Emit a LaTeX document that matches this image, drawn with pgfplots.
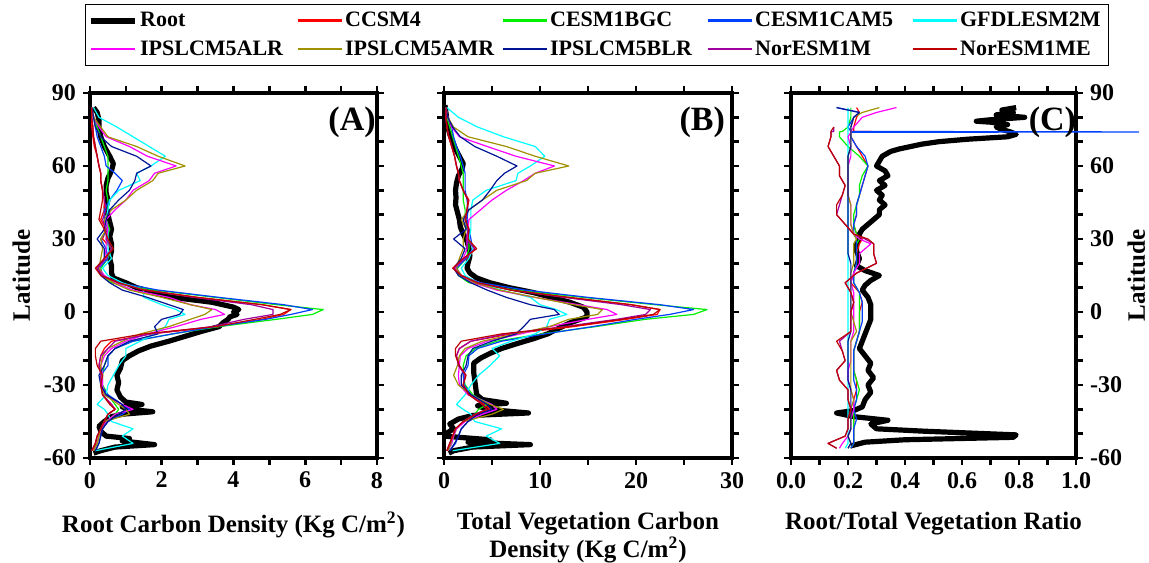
\documentclass[border=0pt]{standalone}
\usepackage{pgfplots}
\pgfplotsset{compat=1.18}
\usepackage{pgfplotstable}
\usepackage{fontspec}
\setmainfont{Liberation Serif}

\definecolor{cRed}{RGB}{255,0,0}
\definecolor{cGreen}{RGB}{0,240,0}
\definecolor{cBlue}{RGB}{0,64,255}
\definecolor{cCyan}{RGB}{0,255,255}
\definecolor{cMag}{RGB}{255,0,255}
\definecolor{cOlive}{RGB}{160,145,0}
\definecolor{cNavy}{RGB}{0,20,150}
\definecolor{cPurp}{RGB}{160,0,160}
\definecolor{cDkred}{RGB}{190,0,0}

% columns: lat CCSM4 CESM1BGC CESM1CAM5 GFDLESM2M IPSLCM5ALR IPSLCM5AMR IPSLCM5BLR NorESM1M NorESM1ME
\pgfplotstableread{
lat red green blue cyan mag olive navy purp dkred
84 0.05 0.05 0.05 0.10 0.05 0.05 0.05 0.05 0.05
80 0.05 0.10 0.10 0.25 0.10 0.10 0.10 0.05 0.05
76 0.05 0.20 0.15 0.75 0.25 0.30 0.15 0.08 0.08
72 0.08 0.30 0.20 1.20 0.45 0.50 0.30 0.10 0.10
68 0.12 0.40 0.30 1.65 1.10 1.30 0.60 0.15 0.15
64 0.20 0.50 0.40 2.10 1.60 1.90 1.30 0.20 0.20
60 0.25 0.50 0.45 1.70 2.40 2.65 1.70 0.25 0.25
57 0.30 0.50 0.70 1.30 1.80 1.90 1.30 0.30 0.30
54 0.30 0.50 0.90 1.40 1.65 1.75 1.25 0.30 0.30
50 0.35 0.45 0.75 0.80 1.20 1.30 1.10 0.35 0.35
46 0.40 0.50 0.55 0.55 1.00 1.00 0.80 0.40 0.35
42 0.40 0.50 0.40 0.50 0.70 0.60 0.55 0.45 0.30
38 0.30 0.45 0.40 0.45 0.45 0.40 0.45 0.35 0.25
34 0.45 0.55 0.50 0.50 0.50 0.45 0.40 0.45 0.40
30 0.35 0.45 0.30 0.50 0.45 0.30 0.20 0.45 0.50
26 0.60 0.60 0.45 0.50 0.45 0.35 0.40 0.60 0.65
22 0.40 0.50 0.50 0.60 0.40 0.30 0.40 0.45 0.40
18 0.20 0.30 0.25 0.35 0.25 0.25 0.20 0.20 0.15
15 0.35 0.35 0.35 0.50 0.40 0.35 0.30 0.35 0.30
12 0.80 0.60 0.80 0.90 0.70 0.65 0.55 0.80 0.80
9 1.60 1.80 1.90 1.50 1.20 1.10 0.90 1.50 1.50
6 3.00 3.50 3.60 1.50 2.20 2.00 1.60 2.90 3.00
3 4.80 5.20 5.40 2.00 2.80 2.80 2.20 4.50 4.80
1 5.60 6.50 6.20 2.40 3.50 3.40 2.60 5.10 5.60
-1 5.40 6.20 5.60 2.65 3.75 3.20 2.50 5.10 5.30
-3 4.80 5.20 4.90 2.20 3.10 2.80 2.00 4.30 4.60
-6 3.60 3.60 3.50 2.10 2.40 2.20 1.80 3.40 3.50
-9 1.70 2.30 2.30 1.80 1.60 1.40 1.90 1.70 1.50
-12 0.60 1.20 1.20 1.40 1.00 0.90 1.10 0.70 0.30
-15 0.40 0.70 0.70 1.00 0.60 0.50 0.70 0.50 0.15
-18 0.30 0.50 0.50 1.00 0.40 0.35 0.50 0.30 0.15
-22 0.25 0.40 0.50 0.80 0.30 0.30 0.40 0.25 0.20
-26 0.35 0.35 0.30 0.65 0.35 0.30 0.25 0.30 0.35
-30 0.30 0.35 0.30 0.50 0.35 0.30 0.30 0.30 0.30
-34 0.35 0.50 0.50 0.45 0.40 0.40 0.45 0.35 0.35
-38 0.60 0.70 0.90 0.20 0.90 0.80 0.90 0.60 0.55
-40 0.70 0.80 1.10 0.40 1.20 1.00 1.00 0.70 0.70
-42 0.50 0.70 0.90 0.50 0.70 1.10 0.80 0.50 0.50
-45 0.40 0.45 0.50 0.60 0.45 0.40 0.50 0.40 0.40
-48 0.30 0.30 0.35 1.20 0.30 0.30 0.35 0.30 0.30
-51 0.20 0.25 0.30 0.90 0.25 0.25 0.30 0.20 0.20
-54 0.15 0.20 0.25 1.20 0.20 0.20 0.25 0.15 0.15
-57 0.05 0.10 0.15 0.15 0.10 0.10 0.15 0.05 0.05
}\Amod

\pgfplotstableread{
lat val
84 0.10
82 0.20
79 0.25
76 0.25
72 0.30
68 0.40
64 0.55
61 0.65
58 0.60
55 0.50
52 0.45
49 0.45
46 0.50
43 0.45
40 0.50
37 0.55
34 0.60
31 0.55
28 0.60
25 0.60
22 0.55
19 0.60
16 0.60
14 0.65
12 1.00
10 1.30
8 1.80
6 2.30
4 3.40
2 4.00
1 4.15
0 4.00
-1 4.10
-2 3.90
-3 3.85
-4.5 3.70
-6 3.60
-8 3.10
-10 2.65
-12 2.20
-14 1.70
-16 1.35
-18 1.10
-20 0.90
-23 0.85
-26 0.75
-29 0.80
-32 0.75
-35 0.85
-37 1.00
-38 1.45
-39 0.90
-40 1.10
-41 1.75
-42 0.90
-43 0.60
-45 0.40
-47 0.25
-49 0.30
-51 0.45
-52 1.10
-53 0.90
-54.5 1.80
-55.5 0.70
-57 0.30
-58 0.10
}\Aroot

\pgfplotstableread{
lat red green blue cyan mag olive navy purp dkred
84 0.2 0.2 0.2 0.3 0.2 0.2 0.2 0.2 0.2
80 0.2 0.3 0.4 1.5 0.4 0.4 0.4 0.2 0.2
76 0.3 0.6 0.8 3.5 0.8 1.0 0.9 0.3 0.3
72 0.5 0.9 1.0 6.2 1.6 2.5 1.7 0.5 0.5
68 0.8 1.2 1.3 9.5 4.5 6.5 3.2 0.8 0.8
64 1.1 1.5 1.7 10.5 7.5 9.5 5.5 1.1 1.1
60 1.3 1.8 2.0 9.0 11.5 13.0 7.6 1.3 1.3
57 1.5 2.0 2.2 7.7 9.5 9.5 6.3 1.5 1.5
54 1.6 2.0 2.2 7.5 8.3 8.6 5.5 1.6 1.6
50 2.0 2.0 2.2 4.4 6.5 5.5 4.8 2.0 2.0
46 2.6 2.0 2.4 3.0 5.0 4.0 4.0 2.5 2.5
42 2.4 2.2 2.5 2.8 3.8 2.6 2.6 2.4 2.4
38 2.3 2.2 2.4 2.8 2.6 1.8 2.0 2.2 2.2
34 2.5 2.4 2.6 2.8 2.5 2.3 2.3 2.5 2.6
30 2.4 2.6 2.8 2.6 2.4 2.0 1.0 2.3 2.5
26 3.2 2.6 3.0 3.0 2.4 2.0 2.2 3.2 3.4
22 2.4 2.3 2.3 2.6 2.0 1.6 1.8 2.2 2.0
18 1.0 1.4 1.3 1.8 1.2 1.3 1.0 1.0 0.9
15 1.8 1.5 1.8 2.2 1.8 1.8 1.5 1.8 1.8
12 3.5 2.6 3.8 3.5 3.0 3.2 2.8 3.5 3.5
9 7.0 7.5 8.5 6.0 5.5 5.8 4.5 7.0 7.0
6 13.0 14.5 15.0 9.0 9.5 9.5 6.5 12.5 13.0
3 19.5 22.0 22.5 10.0 14.0 13.5 9.0 18.5 19.5
1 22.5 27.4 26.0 11.7 17.0 16.5 11.5 21.5 22.5
-1 22.2 26.0 23.5 12.8 18.0 16.0 12.0 21.0 21.8
-3 19.0 21.0 20.0 11.0 15.0 13.0 9.0 18.0 18.5
-6 13.5 15.8 15.5 10.7 11.0 11.0 8.3 12.5 13.0
-9 7.0 10.2 10.5 9.5 8.0 7.5 7.5 6.5 6.0
-12 2.8 5.5 6.0 7.0 4.5 4.0 5.0 2.8 1.8
-15 1.6 3.3 3.5 5.0 2.5 2.2 3.0 1.6 1.2
-18 1.3 2.3 2.6 5.8 1.7 1.6 2.5 1.3 1.2
-22 1.6 2.0 2.5 4.8 1.6 1.4 2.3 1.5 1.6
-26 2.2 2.0 2.0 3.6 1.5 1.0 1.8 2.2 2.3
-30 2.0 2.2 2.1 2.8 1.6 1.5 1.8 2.0 2.0
-34 2.6 3.0 2.8 2.2 2.5 2.8 2.8 2.6 2.6
-38 4.2 4.5 5.0 1.3 5.0 4.8 4.5 4.0 4.0
-40 4.8 3.6 5.5 2.0 5.5 6.2 5.0 4.5 4.5
-42 3.5 3.2 4.0 2.8 4.0 5.0 3.5 3.2 3.3
-45 2.0 2.0 2.5 3.2 2.2 2.0 2.5 2.0 2.0
-48 1.2 1.3 1.8 6.0 1.3 1.2 1.8 1.2 1.2
-51 0.9 1.0 1.5 4.4 1.0 0.9 1.5 0.9 0.9
-54 0.6 0.8 1.2 5.8 0.8 0.7 1.1 0.6 0.6
-57 0.3 0.4 0.6 0.9 0.4 0.4 0.6 0.3 0.3
}\Bmod

\pgfplotstableread{
lat val
85 0.1
82 0.2
79 0.3
76 0.4
73 0.6
70 0.9
67 1.2
64 1.6
61 2.0
59 1.9
56 1.5
53 1.3
50 1.2
47 1.25
44 1.2
41 1.4
38 1.6
35 1.7
32 2.0
29 2.4
26 2.6
23 2.7
20 2.5
18 2.4
16 2.7
14 3.4
12 4.8
10 6.8
8 9.3
6 11.2
4 13.1
2 14.5
0 14.9
-2 14.9
-4.5 13.1
-7 11.8
-9 10.8
-11 9.3
-13 7.6
-15 6.0
-17 4.8
-19 3.8
-21 3.1
-25 3.1
-28 3.2
-31 3.3
-34 3.4
-36 4.0
-37.5 6.5
-38.5 3.5
-40 4.5
-41.5 8.8
-42.5 3.0
-44 1.5
-46 0.6
-48 1.0
-50 0.2
-51 0.0
-52.5 4.8
-53.5 2.5
-54.5 9.0
-55.5 3.0
-57 1.0
-58 0.5
}\Broot

\pgfplotstableread{
lat red green blue cyan mag olive navy purp dkred
84 0.23 0.21 0.16 0.20 0.37 0.31 0.16 nan nan
82 0.24 0.21 0.24 0.20 0.30 0.25 0.24 nan nan
80 0.23 0.21 0.22 0.20 0.25 0.22 0.22 nan nan
76 0.22 0.20 0.20 0.20 0.22 0.21 0.21 0.15 0.15
74.2 0.22 0.18 0.21 0.20 0.21 0.21 0.21 0.15 0.14
74.0 0.40 0.17 1.22 0.20 0.21 0.21 0.21 0.14 0.14
73.8 0.21 0.17 0.21 0.20 0.21 0.21 0.21 0.14 0.14
72 0.21 0.17 0.21 0.20 0.20 0.21 0.21 0.14 0.14
68 0.23 0.20 0.23 0.20 0.21 0.21 0.21 0.13 0.13
64 0.25 0.24 0.26 0.20 0.21 0.20 0.20 0.15 0.15
60 0.27 0.27 0.27 0.20 0.20 0.20 0.20 0.17 0.17
56 0.26 0.25 0.26 0.20 0.20 0.20 0.20 0.17 0.17
52 0.25 0.24 0.25 0.20 0.20 0.20 0.20 0.19 0.19
48 0.24 0.24 0.24 0.20 0.20 0.20 0.20 0.18 0.18
44 0.23 0.23 0.23 0.20 0.21 0.21 0.20 0.17 0.16
40 0.23 0.22 0.23 0.20 0.21 0.21 0.20 0.16 0.16
36 0.22 0.22 0.22 0.20 0.21 0.21 0.20 0.19 0.19
32 0.23 0.23 0.22 0.20 0.22 0.22 0.20 0.22 0.22
30 0.25 0.24 0.23 0.20 0.24 0.23 0.20 0.26 0.27
28 0.24 0.23 0.23 0.20 0.28 0.22 0.20 0.29 0.29
24 0.23 0.23 0.23 0.20 0.24 0.22 0.20 0.29 0.29
20 0.23 0.23 0.23 0.20 0.24 0.22 0.21 0.30 0.30
16 0.22 0.22 0.22 0.20 0.22 0.21 0.21 0.23 0.23
12 0.21 0.22 0.22 0.20 0.21 0.21 0.21 0.19 0.19
8 0.24 0.24 0.24 0.20 0.22 0.21 0.21 0.21 0.21
4 0.25 0.24 0.25 0.20 0.22 0.21 0.21 0.22 0.22
0 0.24 0.24 0.25 0.20 0.22 0.21 0.21 0.21 0.21
-4 0.24 0.24 0.25 0.20 0.22 0.22 0.21 0.21 0.21
-8 0.24 0.24 0.24 0.20 0.22 0.23 0.21 0.21 0.21
-12 0.23 0.23 0.23 0.20 0.21 0.21 0.20 0.17 0.16
-16 0.22 0.22 0.22 0.20 0.21 0.21 0.20 0.18 0.18
-20 0.22 0.22 0.22 0.20 0.21 0.21 0.20 0.19 0.19
-24 0.22 0.22 0.22 0.20 0.20 0.21 0.20 0.16 0.16
-28 0.23 0.23 0.22 0.20 0.20 0.21 0.20 0.17 0.17
-32 0.23 0.24 0.23 0.20 0.21 0.21 0.21 0.20 0.20
-36 0.22 0.23 0.23 0.20 0.22 0.22 0.21 0.20 0.20
-40 0.22 0.22 0.22 0.20 0.22 0.21 0.21 0.21 0.21
-44 0.22 0.22 0.23 0.20 0.21 0.21 0.21 0.20 0.20
-48 0.22 0.22 0.22 0.20 0.21 0.21 0.21 0.20 0.20
-51 0.22 0.22 0.22 0.20 0.20 0.20 0.20 0.19 0.19
-54 0.22 0.22 0.22 0.20 0.18 0.21 0.21 0.13 0.13
-56 0.21 0.21 0.21 0.19 0.17 0.20 0.20 0.16 0.16
}\Cmod

\pgfplotstableread{
lat val
84 0.79
83 0.74
82 0.78
81 0.72
80 0.82
79 0.70
78.4 0.65
78 0.70
77 0.76
76 0.72
75 0.74
74 0.77
73 0.79
72 0.76
71 0.62
70 0.52
69 0.46
68 0.42
67 0.38
66 0.35
64 0.32
62 0.31
60 0.30
58 0.33
56 0.34
54 0.31
52 0.33
50 0.30
48 0.32
46 0.31
44 0.33
42 0.31
40 0.31
38 0.29
36 0.27
34 0.25
32 0.24
30 0.24
28 0.23
25 0.23
22 0.24
19 0.23
17 0.26
15 0.31
13 0.28
11 0.26
9 0.25
6 0.27
3 0.28
0 0.28
-3 0.28
-6 0.27
-9 0.26
-12 0.25
-15 0.24
-18 0.26
-21 0.28
-24 0.27
-27 0.29
-30 0.27
-33 0.28
-36 0.26
-39 0.25
-40.5 0.22
-41.5 0.16
-43 0.22
-44.5 0.34
-46 0.28
-48 0.30
-49 0.47
-50.5 0.79
-51.5 0.78
-52.5 0.40
-53.5 0.26
-55 0.21
}\Croot

\pgfplotsset{
  panel/.style={
    scale only axis, height=182.5pt,
    ymin=-60, ymax=90, ytick={-60,-30,0,30,60,90},
    minor ytick={-50,-40,-20,-10,10,20,40,50,70,80},
    tick align=outside, xtick pos=both, ytick pos=both,
    major tick length=3.5pt, minor tick length=3.5pt,
    tick style={black, line width=1.3pt},
    axis line style={line width=1.6pt},
    tick label style={font=\bfseries\fontsize{12}{12}\selectfont},
    label style={font=\bfseries\fontsize{12.5}{14}\selectfont},
    xlabel style={yshift=-5pt},
    /pgf/number format/assume math mode=true,
    legend image code/.code={\draw[##1] (0pt,0pt) -- (22pt,0pt);},
    every legend image post/.style={line width=1.1pt},
  },
  model/.style={line width=0.6pt, line join=round},
  root/.style={black, line width=2.6pt, line join=round},
}

\begin{document}
\begin{tikzpicture}
% (A)
\begin{axis}[panel, at={(0,0)}, anchor=south west, width=143.5pt,
  xmin=0, xmax=8, xtick={0,2,4,6,8}, minor xtick={1,3,5,7},
  yticklabel pos=left, ylabel={Latitude},
  xlabel={Root Carbon Density (Kg C/m\textsuperscript{2})},
  legend columns=5,
  legend style={at={(axis description cs:-0.017,1.245)}, anchor=north west,
    draw=black, line width=0.6pt, inner xsep=1pt, inner ysep=1pt,
    font=\bfseries\fontsize{11}{11}\selectfont,
    nodes={inner xsep=1.2pt, inner ysep=2.8pt}, column sep=0pt},
  legend cell align=left,
  extra description/.code={\node[font=\bfseries\fontsize{17}{17}\selectfont, anchor=east] at (1.02,0.92) {(A)};},
]
\addplot[root, legend image post style={line width=3pt}] table[x=val, y=lat] {\Aroot};
\addplot[model, cRed] table[x=red, y=lat] {\Amod};
\addplot[model, cGreen] table[x=green, y=lat] {\Amod};
\addplot[model, cBlue] table[x=blue, y=lat] {\Amod};
\addplot[model, cCyan] table[x=cyan, y=lat] {\Amod};
\addplot[model, cMag] table[x=mag, y=lat] {\Amod};
\addplot[model, cOlive] table[x=olive, y=lat] {\Amod};
\addplot[model, cNavy] table[x=navy, y=lat] {\Amod};
\addplot[model, cPurp] table[x=purp, y=lat] {\Amod};
\addplot[model, cDkred] table[x=dkred, y=lat] {\Amod};
\addlegendentry{\makebox[77pt][l]{Root}}
\addlegendentry{\makebox[77pt][l]{CCSM4}}
\addlegendentry{\makebox[77pt][l]{CESM1BGC}}
\addlegendentry{\makebox[77pt][l]{CESM1CAM5}}
\addlegendentry{\makebox[72pt][l]{GFDLESM2M}}
\addlegendentry{\makebox[77pt][l]{IPSLCM5ALR}}
\addlegendentry{\makebox[77pt][l]{IPSLCM5AMR}}
\addlegendentry{\makebox[77pt][l]{IPSLCM5BLR}}
\addlegendentry{\makebox[77pt][l]{NorESM1M}}
\addlegendentry{\makebox[72pt][l]{NorESM1ME}}
\end{axis}
% (B)
\begin{axis}[panel, at={(177pt,0)}, anchor=south west, width=144pt,
  xmin=0, xmax=30, xtick={0,10,20,30}, minor xtick={5,15,25},
  yticklabels={},
  xlabel={Total Vegetation Carbon\\Density (Kg C/m\textsuperscript{2})},
  xlabel style={align=center},
  extra description/.code={\node[font=\bfseries\fontsize{17}{17}\selectfont, anchor=east] at (1.0,0.92) {(B)};},
]
\addplot[root] table[x=val, y=lat] {\Broot};
\addplot[model, cRed] table[x=red, y=lat] {\Bmod};
\addplot[model, cGreen] table[x=green, y=lat] {\Bmod};
\addplot[model, cBlue] table[x=blue, y=lat] {\Bmod};
\addplot[model, cCyan] table[x=cyan, y=lat] {\Bmod};
\addplot[model, cMag] table[x=mag, y=lat] {\Bmod};
\addplot[model, cOlive] table[x=olive, y=lat] {\Bmod};
\addplot[model, cNavy] table[x=navy, y=lat] {\Bmod};
\addplot[model, cPurp] table[x=purp, y=lat] {\Bmod};
\addplot[model, cDkred] table[x=dkred, y=lat] {\Bmod};
\end{axis}
% (C)
\begin{axis}[panel, at={(350.5pt,0)}, anchor=south west, width=142.5pt,
  xmin=0, xmax=1, xtick={0,0.2,0.4,0.6,0.8,1.0},
  minor xtick={0.1,0.3,0.5,0.7,0.9},
  xticklabel style={/pgf/number format/.cd, fixed, fixed zerofill, precision=1},
  yticklabel pos=right, ylabel={Latitude},
  ylabel style={at={(axis description cs:1.212,0.5)}, anchor=center},
  xlabel={Root/Total Vegetation Ratio},
  clip=false, unbounded coords=jump,
  extra description/.code={\node[font=\bfseries\fontsize{17}{17}\selectfont, anchor=east] at (1.025,0.92) {(C)};},
]
\addplot[root] table[x=val, y=lat] {\Croot};
\addplot[model, cRed] table[x=red, y=lat] {\Cmod};
\addplot[model, cGreen] table[x=green, y=lat] {\Cmod};
\addplot[model, cBlue] table[x=blue, y=lat] {\Cmod};
\addplot[model, cCyan] table[x=cyan, y=lat] {\Cmod};
\addplot[model, cMag] table[x=mag, y=lat] {\Cmod};
\addplot[model, cOlive] table[x=olive, y=lat] {\Cmod};
\addplot[model, cNavy] table[x=navy, y=lat] {\Cmod};
\addplot[model, cPurp] table[x=purp, y=lat] {\Cmod};
\addplot[model, cDkred] table[x=dkred, y=lat] {\Cmod};
\end{axis}
\pgfresetboundingbox
\path (-45pt,-52pt) rectangle (529.5pt,229pt);
\end{tikzpicture}
\end{document}
